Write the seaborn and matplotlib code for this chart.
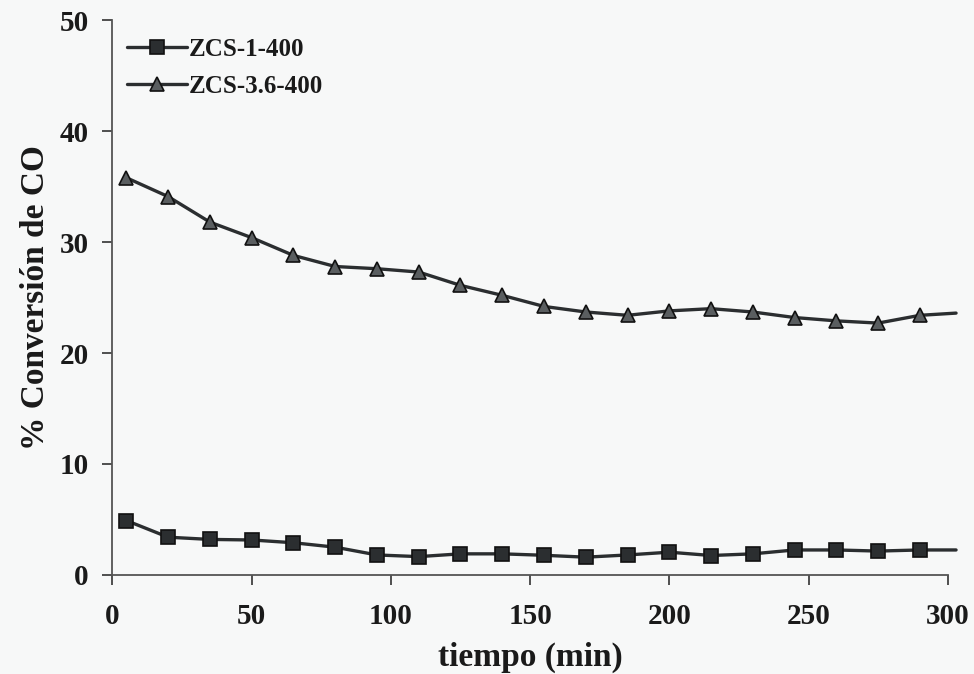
import matplotlib
matplotlib.use("Agg")
import matplotlib.pyplot as plt
import seaborn as sns
import pandas as pd

tiempo = [5, 20, 35, 50, 65, 80, 95, 110, 125, 140, 155, 170, 185, 200, 215, 230, 245, 260, 275, 290, 303]
zcs_1_400 = [4.9, 3.4, 3.2, 3.15, 2.9, 2.5, 1.8, 1.65, 1.9, 1.9, 1.77, 1.6, 1.8, 2.05, 1.75, 1.9, 2.25, 2.25, 2.15, 2.25, 2.25]
zcs_36_400 = [35.8, 34.1, 31.8, 30.4, 28.8, 27.8, 27.6, 27.3, 26.1, 25.2, 24.2, 23.7, 23.4, 23.8, 24.0, 23.7, 23.2, 22.9, 22.7, 23.4, 23.6]
series_names = ["ZCS-1-400", "ZCS-3.6-400"]
x_ticks = [0, 50, 100, 150, 200, 250, 300]
y_ticks = [0, 10, 20, 30, 40, 50]

df = pd.DataFrame({
    "tiempo": tiempo * 2,
    "conv": zcs_1_400 + zcs_36_400,
    "serie": [series_names[0]] * len(tiempo) + [series_names[1]] * len(tiempo),
})

sns.set_theme(style="ticks")
plt.rcParams["font.family"] = ["Liberation Serif", "DejaVu Serif"]
plt.rcParams["font.weight"] = "bold"

bg = "#f7f8f8"
fig = plt.figure(figsize=(9.74, 6.74), dpi=100, facecolor=bg)
ax = fig.add_axes([0.1155, 0.147, 0.8575, 0.823])
ax.set_facecolor(bg)

line_color = "#2b2e30"
n = len(tiempo)
sns.lineplot(data=df, x="tiempo", y="conv", hue="serie", style="serie",
             markers={series_names[0]: "s", series_names[1]: "^"}, dashes=False,
             palette={series_names[0]: line_color, series_names[1]: line_color},
             markersize=10, linewidth=2.4, markevery=list(range(n - 1)),
             markeredgecolor="#111111", markeredgewidth=1.2, ax=ax, legend=True)
for l in ax.lines:
    l.set_clip_on(False)
    if l.get_marker() == "^":
        l.set_markerfacecolor("#5a5e60")

ax.set_xlim(0, 300)
ax.set_ylim(0, 50)
ax.set_xticks(x_ticks)
ax.set_yticks(y_ticks)
ax.tick_params(axis="both", labelsize=21, length=7, width=1.2, colors="#333333",
               labelcolor="#1a1a1a")
ax.tick_params(axis="x", pad=13)
ax.tick_params(axis="y", pad=10)
for t in ax.get_xticklabels() + ax.get_yticklabels():
    t.set_fontweight("bold")
for s in ["top", "right"]:
    ax.spines[s].set_visible(False)
for s in ["left", "bottom"]:
    ax.spines[s].set_color("#555555")
    ax.spines[s].set_linewidth(1.3)

ax.set_xlabel("tiempo (min)", fontsize=24, fontweight="bold", color="#1a1a1a", labelpad=9)
ax.set_ylabel("% Conversión de CO", fontsize=24, fontweight="bold", color="#1a1a1a", labelpad=6)

leg = ax.legend(loc="upper left", bbox_to_anchor=(0.0, 0.995), frameon=False,
                fontsize=18, handlelength=2.4, handletextpad=0.05,
                labelspacing=0.55, borderaxespad=0.2)
for t in leg.get_texts():
    t.set_fontweight("bold")
    t.set_color("#1a1a1a")

fig.savefig("out.png", dpi=100, facecolor=bg)
